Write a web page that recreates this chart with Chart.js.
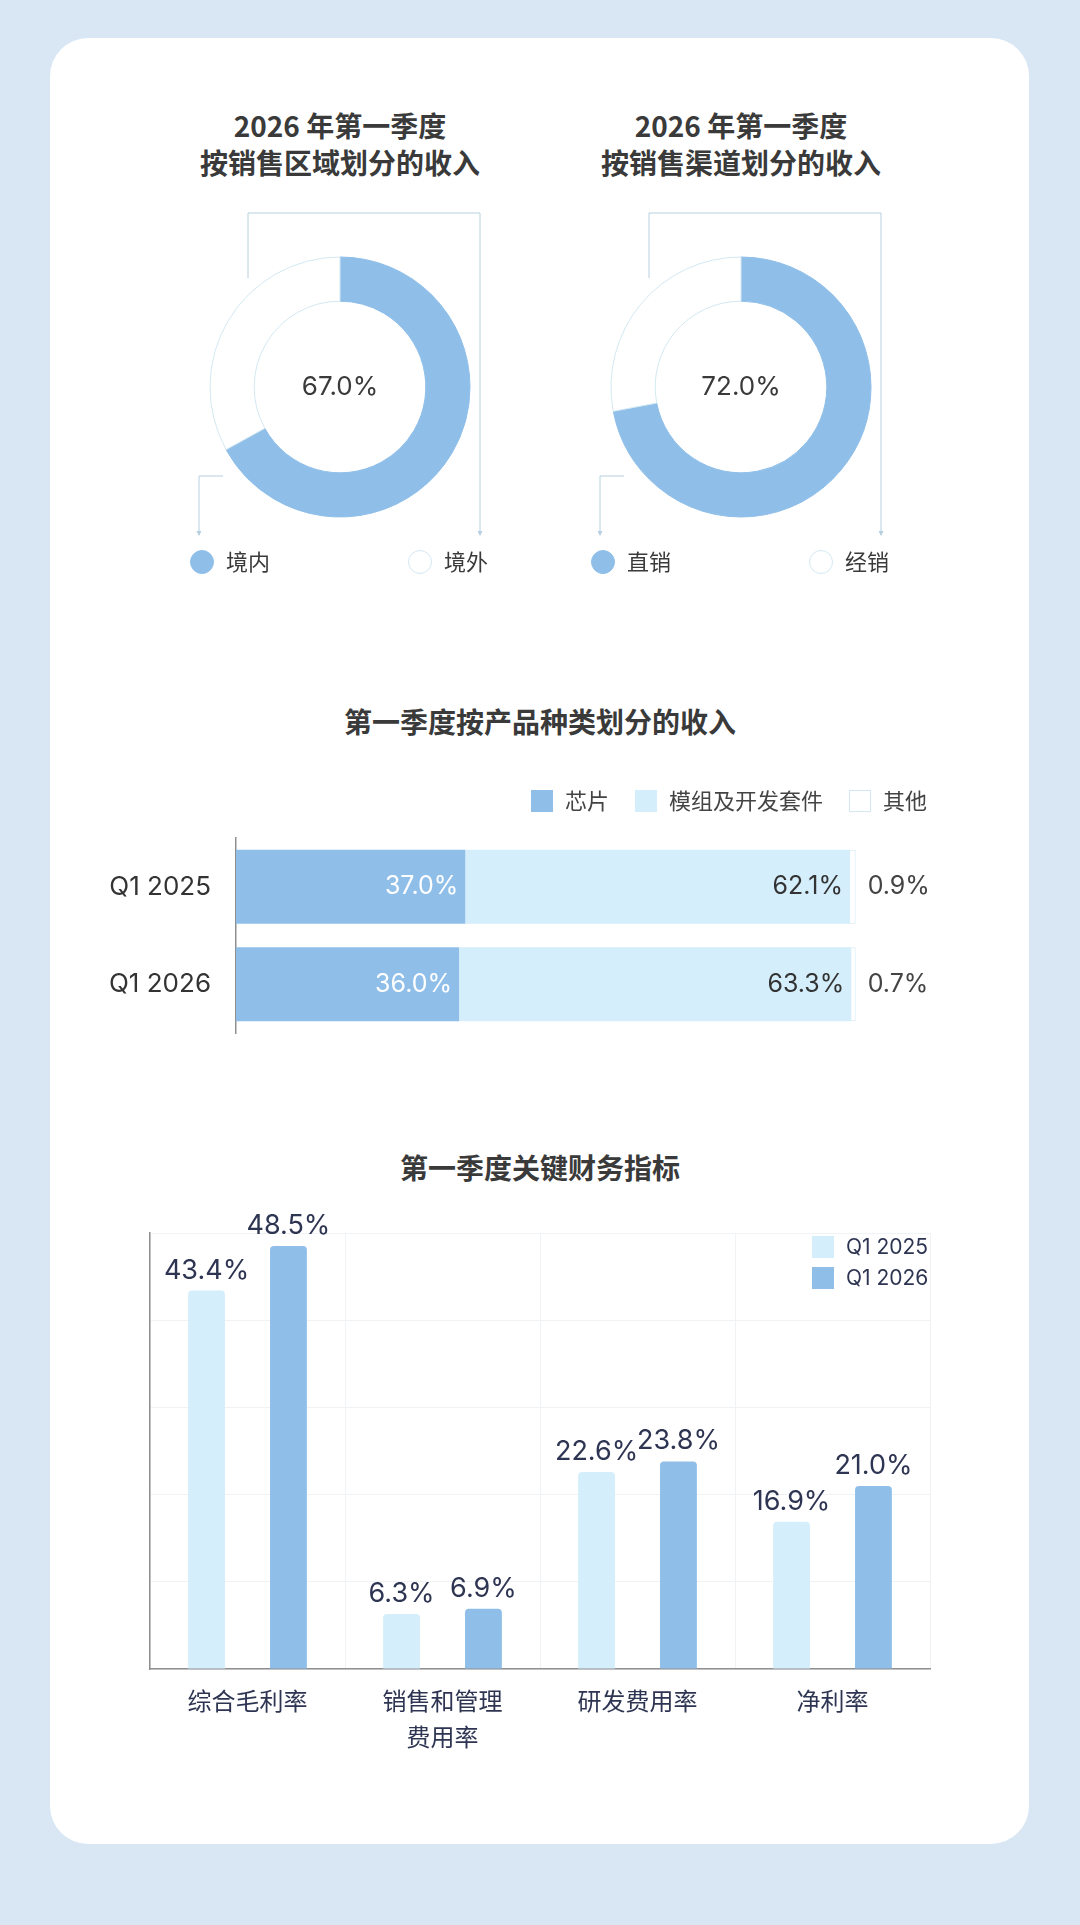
<!DOCTYPE html>
<html lang="zh-CN">
<head>
<meta charset="utf-8">
<title>2026 年第一季度收入与财务指标</title>
<script src="https://cdn.jsdelivr.net/npm/chart.js@4.4.1/dist/chart.umd.min.js"></script>
<style>
  html, body { margin: 0; padding: 0; }
  body {
    width: 1080px; height: 1925px; position: relative; overflow: hidden;
    background: #d9e7f4;
    font-family: Inter, "Noto Sans CJK SC", sans-serif;
  }
  .card { position: absolute; left: 50px; top: 38px; width: 979px; height: 1806px; background: #fff; border-radius: 38px; }
  .title {
    position: absolute; text-align: center;
    font-family: "Noto Sans CJK SC", sans-serif; font-weight: 700;
    font-size: 28px; line-height: 37px; color: #3a3a3a;
  }
  .box { position: absolute; }
  canvas { display: block; }
</style>
</head>
<body>
<div class="card"></div>

<div class="title" style="left:140px; top:107px; width:400px;">2026 年第一季度<br>按销售区域划分的收入</div>
<div class="title" style="left:541px; top:107px; width:400px;">2026 年第一季度<br>按销售渠道划分的收入</div>
<div class="title" style="left:140px; top:703px; width:800px;">第一季度按产品种类划分的收入</div>
<div class="title" style="left:140px; top:1149px; width:800px;">第一季度关键财务指标</div>

<div class="box" style="left:140px; top:187px;"><canvas id="region" width="400" height="400"></canvas></div>
<div class="box" style="left:541px; top:187px;"><canvas id="channel" width="400" height="400"></canvas></div>
<div class="box" style="left:60px; top:770px;"><canvas id="product" width="960" height="305"></canvas></div>
<div class="box" style="left:60px; top:1180px;"><canvas id="metrics" width="960" height="600"></canvas></div>

<script>
// ---- data ----
const regionLabels = ['境内', '境外'];
const regionValues = [67.0, 33.0];
const channelLabels = ['直销', '经销'];
const channelValues = [72.0, 28.0];

const productQuarters = ['Q1 2025', 'Q1 2026'];
const productNames = ['芯片', '模组及开发套件', '其他'];
const chipShare = [37.0, 36.0];
const moduleShare = [62.1, 63.3];
const otherShare = [0.9, 0.7];

const metricNames = ['综合毛利率', ['销售和管理', '费用率'], '研发费用率', '净利率'];
const seriesNames = ['Q1 2025', 'Q1 2026'];
const metricsQ12025 = [43.4, 6.3, 22.6, 16.9];
const metricsQ12026 = [48.5, 6.9, 23.8, 21.0];

// ---- styles ----
const BLUE = '#8fbfe9';
const LIGHT = '#d5eefb';
const WHITE_EDGE = '#d3e8f2';
const LEADER = '#b7d0e0';
const AXIS = '#8f8f8f';
const GRID = '#f0f3f5';
const NAVY = '#2e3552';
const TEXT = '#3a3a3a';
const FONT = 'Inter, "Noto Sans CJK SC", sans-serif';

Chart.defaults.font.family = FONT;
Chart.defaults.animation = false;

function pct(v) { return v.toFixed(1) + '%'; }

// donut: centre value, leader lines and the two legend items
const donutDeco = {
  id: 'donutDeco',
  afterDraw(chart) {
    const arc = chart.getDatasetMeta(0).data[0];
    const cx = arc.x, cy = arc.y, r = arc.outerRadius;
    const ds = chart.data.datasets[0];
    const ctx = chart.ctx;
    ctx.save();

    ctx.font = '26px ' + FONT;
    ctx.fillStyle = TEXT;
    ctx.textAlign = 'center';
    ctx.textBaseline = 'middle';
    ctx.fillText(pct(ds.data[0]), cx, cy);

    const top = cy - r - 44, right = cx + 140, left = cx - 141, bottom = cy + 148;
    ctx.strokeStyle = LEADER;
    ctx.lineWidth = 1;
    ctx.beginPath();
    ctx.moveTo(cx - 92, cy - r + 21);
    ctx.lineTo(cx - 92, top);
    ctx.lineTo(right, top);
    ctx.lineTo(right, bottom);
    ctx.moveTo(cx - 117, cy + 89);
    ctx.lineTo(left, cy + 89);
    ctx.lineTo(left, bottom);
    ctx.stroke();
    ctx.fillStyle = LEADER;
    [right, left].forEach(x => {
      ctx.beginPath();
      ctx.moveTo(x - 2.5, bottom - 4);
      ctx.lineTo(x + 2.5, bottom - 4);
      ctx.lineTo(x, bottom + 1);
      ctx.closePath();
      ctx.fill();
    });

    const ly = cy + 175;
    const slots = [cx - 138, cx + 80];
    ctx.font = '22px ' + FONT;
    ctx.textAlign = 'left';
    chart.data.labels.forEach((lab, i) => {
      ctx.beginPath();
      ctx.arc(slots[i], ly, 11.5, 0, Math.PI * 2);
      ctx.fillStyle = ds.backgroundColor[i];
      ctx.fill();
      ctx.strokeStyle = ds.borderColor[i];
      ctx.lineWidth = 1;
      ctx.stroke();
      ctx.fillStyle = TEXT;
      ctx.fillText(lab, slots[i] + 24, ly + 1);
    });
    ctx.restore();
  }
};

function makeDonut(id, labels, values) {
  return new Chart(document.getElementById(id), {
    type: 'doughnut',
    data: {
      labels: labels,
      datasets: [{
        data: values,
        backgroundColor: [BLUE, '#ffffff'],
        borderColor: [BLUE, WHITE_EDGE],
        borderWidth: 1,
        radius: 130,
        cutout: '66%'
      }]
    },
    options: {
      responsive: false,
      plugins: { legend: { display: false }, tooltip: { enabled: false } }
    },
    plugins: [donutDeco]
  });
}

makeDonut('region', regionLabels, regionValues);
makeDonut('channel', channelLabels, channelValues);

// stacked bars: value labels + legend above the plot
const stackDeco = {
  id: 'stackDeco',
  afterDatasetsDraw(chart) {
    const ctx = chart.ctx;
    const area = chart.chartArea;
    ctx.save();
    ctx.font = '25px ' + FONT;
    ctx.textBaseline = 'middle';
    chart.data.datasets.forEach((ds, di) => {
      chart.getDatasetMeta(di).data.forEach((bar, i) => {
        const txt = pct(ds.data[i]);
        if (di === 2) {
          ctx.textAlign = 'left';
          ctx.fillStyle = '#444';
          ctx.fillText(txt, bar.x + 12, bar.y);
        } else {
          ctx.textAlign = 'right';
          ctx.fillStyle = di === 0 ? '#ffffff' : '#333';
          ctx.fillText(txt, bar.x - 7, bar.y);
        }
      });
    });

    // legend, right aligned to the plot
    ctx.font = '22px ' + FONT;
    ctx.textAlign = 'left';
    const ly = area.top - 37;
    let x = area.right - 3;
    for (let i = chart.data.datasets.length - 1; i >= 0; i--) {
      const ds = chart.data.datasets[i];
      const w = ctx.measureText(ds.label).width;
      x -= w;
      ctx.fillStyle = '#444';
      ctx.fillText(ds.label, x, ly + 1);
      x -= 12 + 22;
      ctx.fillStyle = ds.backgroundColor;
      ctx.fillRect(x, ly - 11, 22, 22);
      if (ds.borderWidth) {
        ctx.strokeStyle = ds.borderColor;
        ctx.lineWidth = 1;
        ctx.strokeRect(x + 0.5, ly - 10.5, 21, 21);
      }
      x -= 26;
    }
    ctx.restore();
  }
};

new Chart(document.getElementById('product'), {
  type: 'bar',
  data: {
    labels: productQuarters,
    datasets: [
      { label: productNames[0], data: chipShare, backgroundColor: BLUE, borderWidth: 0 },
      { label: productNames[1], data: moduleShare, backgroundColor: LIGHT, borderWidth: 0 },
      { label: productNames[2], data: otherShare, backgroundColor: '#ffffff', borderColor: WHITE_EDGE, borderWidth: 1 }
    ]
  },
  options: {
    responsive: false,
    indexAxis: 'y',
    categoryPercentage: 1,
    barPercentage: 0.76,
    layout: { padding: { left: 0, right: 90, top: 68, bottom: 42 } },
    scales: {
      x: { stacked: true, min: 0, max: 112, display: false },
      y: {
        stacked: true,
        grid: { display: false, drawTicks: false },
        border: { display: true, color: AXIS, width: 1.5 },
        ticks: { color: '#333', font: { size: 26 }, padding: 25 },
        afterFit(s) { s.width = 176; }
      }
    },
    plugins: { legend: { display: false }, tooltip: { enabled: false } }
  },
  plugins: [stackDeco]
});

// grouped bars: value labels + legend in the top right corner
const groupDeco = {
  id: 'groupDeco',
  afterDatasetsDraw(chart) {
    const ctx = chart.ctx;
    const area = chart.chartArea;
    ctx.save();
    ctx.font = '27px ' + FONT;
    ctx.fillStyle = NAVY;
    ctx.textAlign = 'center';
    ctx.textBaseline = 'alphabetic';
    chart.data.datasets.forEach((ds, di) => {
      chart.getDatasetMeta(di).data.forEach((bar, i) => {
        ctx.fillText(pct(ds.data[i]), bar.x, bar.y - 12);
      });
    });

    ctx.font = '21px ' + FONT;
    ctx.textAlign = 'left';
    ctx.textBaseline = 'middle';
    chart.data.datasets.forEach((ds, i) => {
      const y = area.top + 14 + i * 31;
      const bx = area.right - 118;
      ctx.fillStyle = ds.backgroundColor;
      ctx.fillRect(bx, y - 11, 22, 22);
      ctx.fillStyle = NAVY;
      ctx.fillText(ds.label, bx + 34, y + 1);
    });
    ctx.restore();
  }
};

new Chart(document.getElementById('metrics'), {
  type: 'bar',
  data: {
    labels: metricNames,
    datasets: [
      { label: seriesNames[0], data: metricsQ12025, backgroundColor: LIGHT, borderRadius: 4 },
      { label: seriesNames[1], data: metricsQ12026, backgroundColor: BLUE, borderRadius: 4 }
    ]
  },
  options: {
    responsive: false,
    categoryPercentage: 0.84,
    barPercentage: 0.45,
    layout: { padding: { left: 90, right: 90, top: 53, bottom: 0 } },
    scales: {
      y: {
        min: 0, max: 50,
        ticks: { display: false, stepSize: 10 },
        grid: { color: GRID, drawTicks: false },
        border: { color: AXIS, width: 1.5 },
        afterFit(s) { s.width = 0; }
      },
      x: {
        grid: { color: GRID, drawTicks: false, offset: true },
        border: { color: AXIS, width: 1.5 },
        ticks: { color: NAVY, font: { size: 24, lineHeight: 1.5 }, padding: 16 },
        afterFit(s) { s.height = 111; }
      }
    },
    plugins: { legend: { display: false }, tooltip: { enabled: false } }
  },
  plugins: [groupDeco]
});
</script>
</body>
</html>
